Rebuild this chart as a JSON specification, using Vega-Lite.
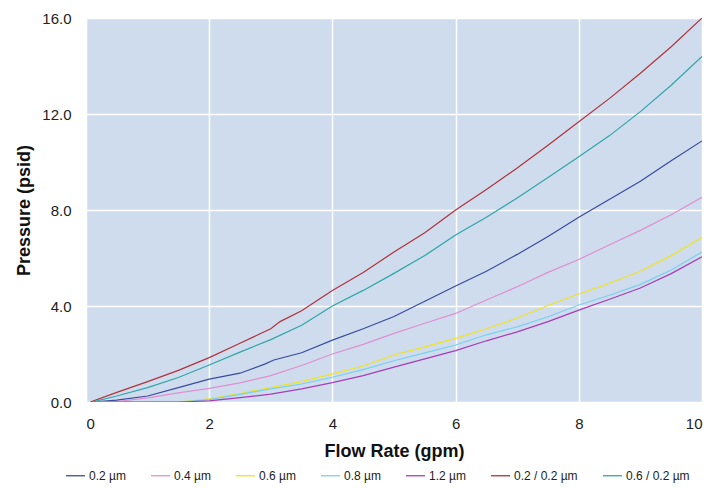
{
  "$schema": "https://vega.github.io/schema/vega-lite/v6.json",
  "width": 616,
  "height": 384,
  "autosize": {"type": "none"},
  "padding": {"left": 86, "top": 18, "right": 18, "bottom": 86},
  "background": "white",
  "config": {
    "view": {"fill": "#cfdcee", "stroke": null},
    "font": "Liberation Sans"
  },
  "datasets": {
    "d": [
      {"s": "0.2 µm", "x": 0.1, "y": 0}, {"s": "0.2 µm", "x": 0.5, "y": 0.08}, {"s": "0.2 µm", "x": 1, "y": 0.25}, {"s": "0.2 µm", "x": 1.5, "y": 0.6}, {"s": "0.2 µm", "x": 2, "y": 0.95}, {"s": "0.2 µm", "x": 2.5, "y": 1.2}, {"s": "0.2 µm", "x": 2.9, "y": 1.58}, {"s": "0.2 µm", "x": 3.05, "y": 1.75}, {"s": "0.2 µm", "x": 3.5, "y": 2.05}, {"s": "0.2 µm", "x": 4, "y": 2.58}, {"s": "0.2 µm", "x": 4.5, "y": 3.05}, {"s": "0.2 µm", "x": 5, "y": 3.56}, {"s": "0.2 µm", "x": 5.5, "y": 4.2}, {"s": "0.2 µm", "x": 6, "y": 4.83}, {"s": "0.2 µm", "x": 6.5, "y": 5.45}, {"s": "0.2 µm", "x": 7, "y": 6.15}, {"s": "0.2 µm", "x": 7.5, "y": 6.9}, {"s": "0.2 µm", "x": 8, "y": 7.7}, {"s": "0.2 µm", "x": 8.5, "y": 8.45}, {"s": "0.2 µm", "x": 9, "y": 9.2}, {"s": "0.2 µm", "x": 9.5, "y": 10.05}, {"s": "0.2 µm", "x": 10, "y": 10.88},
      {"s": "0.4 µm", "x": 0.1, "y": 0}, {"s": "0.4 µm", "x": 0.5, "y": 0.02}, {"s": "0.4 µm", "x": 1, "y": 0.17}, {"s": "0.4 µm", "x": 1.5, "y": 0.38}, {"s": "0.4 µm", "x": 2, "y": 0.57}, {"s": "0.4 µm", "x": 2.5, "y": 0.8}, {"s": "0.4 µm", "x": 3, "y": 1.1}, {"s": "0.4 µm", "x": 3.5, "y": 1.52}, {"s": "0.4 µm", "x": 4, "y": 2.0}, {"s": "0.4 µm", "x": 4.5, "y": 2.4}, {"s": "0.4 µm", "x": 5, "y": 2.86}, {"s": "0.4 µm", "x": 5.5, "y": 3.28}, {"s": "0.4 µm", "x": 6, "y": 3.69}, {"s": "0.4 µm", "x": 6.5, "y": 4.25}, {"s": "0.4 µm", "x": 7, "y": 4.8}, {"s": "0.4 µm", "x": 7.5, "y": 5.4}, {"s": "0.4 µm", "x": 8, "y": 5.94}, {"s": "0.4 µm", "x": 8.5, "y": 6.55}, {"s": "0.4 µm", "x": 9, "y": 7.15}, {"s": "0.4 µm", "x": 9.5, "y": 7.8}, {"s": "0.4 µm", "x": 10, "y": 8.53},
      {"s": "0.6 µm", "x": 0.1, "y": 0}, {"s": "0.6 µm", "x": 1, "y": 0}, {"s": "0.6 µm", "x": 1.5, "y": 0.0}, {"s": "0.6 µm", "x": 2, "y": 0.13}, {"s": "0.6 µm", "x": 2.5, "y": 0.35}, {"s": "0.6 µm", "x": 3, "y": 0.6}, {"s": "0.6 µm", "x": 3.5, "y": 0.85}, {"s": "0.6 µm", "x": 4, "y": 1.17}, {"s": "0.6 µm", "x": 4.5, "y": 1.5}, {"s": "0.6 µm", "x": 5, "y": 1.96}, {"s": "0.6 µm", "x": 5.5, "y": 2.3}, {"s": "0.6 µm", "x": 6, "y": 2.65}, {"s": "0.6 µm", "x": 6.5, "y": 3.05}, {"s": "0.6 µm", "x": 7, "y": 3.5}, {"s": "0.6 µm", "x": 7.5, "y": 4.02}, {"s": "0.6 µm", "x": 8, "y": 4.5}, {"s": "0.6 µm", "x": 8.5, "y": 4.95}, {"s": "0.6 µm", "x": 9, "y": 5.45}, {"s": "0.6 µm", "x": 9.5, "y": 6.1}, {"s": "0.6 µm", "x": 10, "y": 6.85},
      {"s": "0.8 µm", "x": 0.1, "y": 0}, {"s": "0.8 µm", "x": 1, "y": 0}, {"s": "0.8 µm", "x": 1.5, "y": 0.0}, {"s": "0.8 µm", "x": 2, "y": 0.1}, {"s": "0.8 µm", "x": 2.5, "y": 0.32}, {"s": "0.8 µm", "x": 3, "y": 0.55}, {"s": "0.8 µm", "x": 3.5, "y": 0.75}, {"s": "0.8 µm", "x": 4, "y": 1.03}, {"s": "0.8 µm", "x": 4.5, "y": 1.35}, {"s": "0.8 µm", "x": 5, "y": 1.72}, {"s": "0.8 µm", "x": 5.5, "y": 2.05}, {"s": "0.8 µm", "x": 6, "y": 2.375}, {"s": "0.8 µm", "x": 6.5, "y": 2.8}, {"s": "0.8 µm", "x": 7, "y": 3.13}, {"s": "0.8 µm", "x": 7.5, "y": 3.55}, {"s": "0.8 µm", "x": 8, "y": 4.04}, {"s": "0.8 µm", "x": 8.5, "y": 4.45}, {"s": "0.8 µm", "x": 9, "y": 4.9}, {"s": "0.8 µm", "x": 9.5, "y": 5.5}, {"s": "0.8 µm", "x": 10, "y": 6.25},
      {"s": "1.2 µm", "x": 0.1, "y": 0}, {"s": "1.2 µm", "x": 1, "y": 0}, {"s": "1.2 µm", "x": 1.5, "y": 0.0}, {"s": "1.2 µm", "x": 2, "y": 0.05}, {"s": "1.2 µm", "x": 2.5, "y": 0.18}, {"s": "1.2 µm", "x": 3, "y": 0.33}, {"s": "1.2 µm", "x": 3.5, "y": 0.55}, {"s": "1.2 µm", "x": 4, "y": 0.81}, {"s": "1.2 µm", "x": 4.5, "y": 1.1}, {"s": "1.2 µm", "x": 5, "y": 1.45}, {"s": "1.2 µm", "x": 5.5, "y": 1.8}, {"s": "1.2 µm", "x": 6, "y": 2.14}, {"s": "1.2 µm", "x": 6.5, "y": 2.55}, {"s": "1.2 µm", "x": 7, "y": 2.92}, {"s": "1.2 µm", "x": 7.5, "y": 3.35}, {"s": "1.2 µm", "x": 8, "y": 3.83}, {"s": "1.2 µm", "x": 8.5, "y": 4.28}, {"s": "1.2 µm", "x": 9, "y": 4.75}, {"s": "1.2 µm", "x": 9.5, "y": 5.35}, {"s": "1.2 µm", "x": 10, "y": 6.05},
      {"s": "0.2 / 0.2 µm", "x": 0.07, "y": 0}, {"s": "0.2 / 0.2 µm", "x": 0.5, "y": 0.4}, {"s": "0.2 / 0.2 µm", "x": 1, "y": 0.85}, {"s": "0.2 / 0.2 µm", "x": 1.5, "y": 1.32}, {"s": "0.2 / 0.2 µm", "x": 2, "y": 1.85}, {"s": "0.2 / 0.2 µm", "x": 2.5, "y": 2.45}, {"s": "0.2 / 0.2 µm", "x": 3, "y": 3.05}, {"s": "0.2 / 0.2 µm", "x": 3.15, "y": 3.35}, {"s": "0.2 / 0.2 µm", "x": 3.5, "y": 3.8}, {"s": "0.2 / 0.2 µm", "x": 4, "y": 4.65}, {"s": "0.2 / 0.2 µm", "x": 4.5, "y": 5.4}, {"s": "0.2 / 0.2 µm", "x": 5, "y": 6.25}, {"s": "0.2 / 0.2 µm", "x": 5.5, "y": 7.05}, {"s": "0.2 / 0.2 µm", "x": 6, "y": 8.0}, {"s": "0.2 / 0.2 µm", "x": 6.5, "y": 8.85}, {"s": "0.2 / 0.2 µm", "x": 7, "y": 9.75}, {"s": "0.2 / 0.2 µm", "x": 7.5, "y": 10.7}, {"s": "0.2 / 0.2 µm", "x": 8, "y": 11.68}, {"s": "0.2 / 0.2 µm", "x": 8.5, "y": 12.65}, {"s": "0.2 / 0.2 µm", "x": 9, "y": 13.7}, {"s": "0.2 / 0.2 µm", "x": 9.5, "y": 14.8}, {"s": "0.2 / 0.2 µm", "x": 10, "y": 16.0},
      {"s": "0.6 / 0.2 µm", "x": 0.1, "y": 0}, {"s": "0.6 / 0.2 µm", "x": 0.5, "y": 0.25}, {"s": "0.6 / 0.2 µm", "x": 1, "y": 0.6}, {"s": "0.6 / 0.2 µm", "x": 1.5, "y": 1.02}, {"s": "0.6 / 0.2 µm", "x": 2, "y": 1.54}, {"s": "0.6 / 0.2 µm", "x": 2.5, "y": 2.08}, {"s": "0.6 / 0.2 µm", "x": 3, "y": 2.6}, {"s": "0.6 / 0.2 µm", "x": 3.5, "y": 3.2}, {"s": "0.6 / 0.2 µm", "x": 4, "y": 4.0}, {"s": "0.6 / 0.2 µm", "x": 4.5, "y": 4.65}, {"s": "0.6 / 0.2 µm", "x": 5, "y": 5.36}, {"s": "0.6 / 0.2 µm", "x": 5.5, "y": 6.1}, {"s": "0.6 / 0.2 µm", "x": 6, "y": 6.96}, {"s": "0.6 / 0.2 µm", "x": 6.5, "y": 7.7}, {"s": "0.6 / 0.2 µm", "x": 7, "y": 8.5}, {"s": "0.6 / 0.2 µm", "x": 7.5, "y": 9.35}, {"s": "0.6 / 0.2 µm", "x": 8, "y": 10.22}, {"s": "0.6 / 0.2 µm", "x": 8.5, "y": 11.1}, {"s": "0.6 / 0.2 µm", "x": 9, "y": 12.1}, {"s": "0.6 / 0.2 µm", "x": 9.5, "y": 13.2}, {"s": "0.6 / 0.2 µm", "x": 10, "y": 14.4}
    ]
  },
  "data": {"name": "d"},
  "mark": {"type": "line", "strokeWidth": 1.2, "clip": true},
  "encoding": {
    "x": {
      "field": "x", "type": "quantitative",
      "scale": {"domain": [0, 10], "nice": false},
      "axis": {
        "title": "Flow Rate (gpm)", "values": [0, 2, 4, 6, 8, 10], "format": "d",
        "domain": false, "ticks": false, "labelPadding": 14, "labelFontSize": 15, "labelColor": "#222",
        "grid": true, "gridColor": "white", "gridWidth": 1.5,
        "titleFontSize": 18, "titleFontWeight": "bold", "titleColor": "#111", "titlePadding": 11
      }
    },
    "y": {
      "field": "y", "type": "quantitative",
      "scale": {"domain": [0, 16], "nice": false},
      "axis": {
        "title": "Pressure (psid)", "values": [0, 4, 8, 12, 16], "format": ".1f",
        "domain": false, "ticks": false, "labelPadding": 15, "labelFontSize": 15, "labelColor": "#222",
        "grid": true, "gridColor": "white", "gridWidth": 1.5,
        "titleFontSize": 18, "titleFontWeight": "bold", "titleColor": "#111", "titlePadding": 8
      }
    },
    "color": {
      "field": "s", "type": "nominal",
      "scale": {
        "domain": ["0.2 µm", "0.4 µm", "0.6 µm", "0.8 µm", "1.2 µm", "0.2 / 0.2 µm", "0.6 / 0.2 µm"],
        "range": ["#3a4aa0", "#e08ed0", "#f0e41e", "#78d0ee", "#a53db8", "#b2323a", "#2ea6a8"]
      },
      "legend": {
        "title": null, "orient": "none", "direction": "horizontal", "legendX": -21, "legendY": 447,
        "symbolType": "stroke", "symbolSize": 361, "symbolStrokeWidth": 1.3,
        "labelFontSize": 12, "labelColor": "#222", "columnPadding": 22, "labelOffset": 3
      }
    }
  }
}
